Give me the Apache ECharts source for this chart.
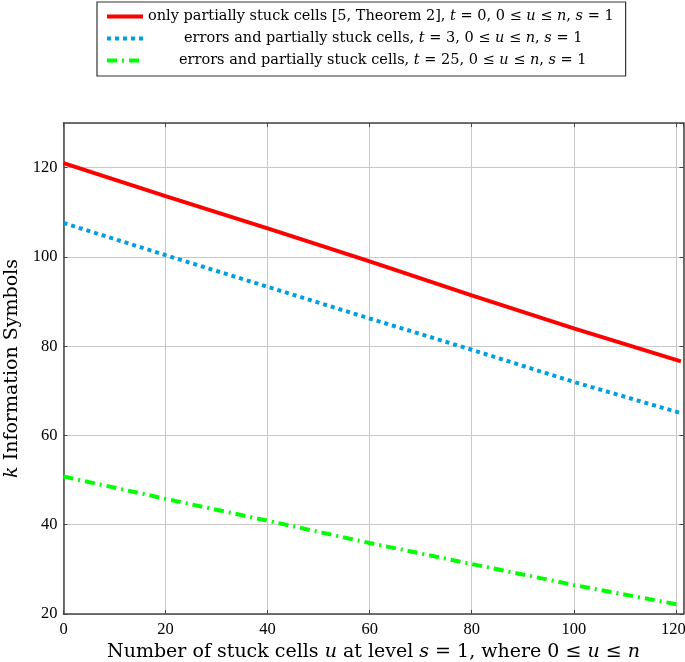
<!DOCTYPE html>
<html>
<head>
<meta charset="utf-8">
<script src="https://cdn.jsdelivr.net/npm/echarts@6/dist/echarts.min.js"></script>
<style>html,body{margin:0;padding:0;background:#fff;}#c{width:685px;height:662px;}</style>
</head>
<body>
<div id="c"></div>
<script>
const uValues = [0, 20, 40, 60, 80, 100, 121];
const onlyStuck = [121, 113.6, 106.4, 99.0, 91.4, 84.0, 76.6];
const errorsT3 = [107.6, 100.4, 93.3, 86.2, 79.2, 72.0, 65.0];
const errorsT25 = [50.8, 45.8, 40.9, 35.9, 31.2, 26.5, 22.0];
const seriesNames = ['only', 't3', 't25'];
const xTicks = [0, 20, 40, 60, 80, 100, 120];
const yTicks = [20, 40, 60, 80, 100, 120];

const TEXTFONT = 'DejaVu Serif';
const NUMFONT = 'Liberation Serif';
const pair = (ys) => uValues.map((u, i) => [u, ys[i]]);

const legendText = {
  only: '{a|only partially stuck cells [5, Theorem 2], }{i|t}{a| = 0, 0 ≤ }{i|u}{a| ≤ }{i|n}{a|, }{i|s}{a| = 1}',
  t3: '{sp2|}{a|errors and partially stuck cells, }{i|t}{a| = 3, 0 ≤ }{i|u}{a| ≤ }{i|n}{a|, }{i|s}{a| = 1}',
  t25: '{sp3|}{a|errors and partially stuck cells, }{i|t}{a| = 25, 0 ≤ }{i|u}{a| ≤ }{i|n}{a|, }{i|s}{a| = 1}'
};

const chart = echarts.init(document.getElementById('c'), null, {renderer: 'canvas'});
const axisLineStyle = {color: '#454545', width: 1.5};
const gridLine = {show: true, lineStyle: {color: '#c8c8c8', width: 1}};
const LF = 14.5;
const NF = 19;

chart.setOption({
  animation: false,
  backgroundColor: '#fff',
  grid: {left: 63.5, right: 1.5, top: 123, bottom: 48, outerBoundsMode: 'none', containLabel: false},
  legend: {
    orient: 'vertical',
    left: 97, top: 2,
    padding: [7, 12, 8, 8],
    itemGap: 7,
    itemWidth: 36, itemHeight: 17,
    borderColor: '#333', borderWidth: 1.2,
    itemStyle: {opacity: 0},
    lineStyle: {width: 4},
    data: seriesNames,
    formatter: (name) => legendText[name],
    textStyle: {
      fontFamily: TEXTFONT, fontSize: LF, color: '#000',
      rich: {
        a: {fontFamily: TEXTFONT, fontSize: LF, color: '#000'},
        i: {fontFamily: TEXTFONT, fontSize: LF, fontStyle: 'italic', color: '#000'},
        sp2: {width: 36},
        sp3: {width: 31}
      }
    }
  },
  xAxis: [{
    type: 'value', min: 0, max: 121.5, interval: 20,
    position: 'bottom',
    axisLine: {show: true, onZero: false, lineStyle: axisLineStyle},
    axisTick: {show: true, inside: true, length: 4, lineStyle: {color: '#454545'}},
    splitLine: gridLine,
    axisLabel: {show: true, fontFamily: NUMFONT, fontSize: 16.5, color: '#000', margin: 7, showMaxLabel: false,
      formatter: (v) => !xTicks.includes(v) ? '' : (v === 120 ? '{r|120}' : String(v)),
      rich: {r: {fontFamily: NUMFONT, fontSize: 16.5, color: '#000', padding: [0, 5, 0, 0]}}},
    name: '{a|Number of stuck cells }{i|u}{a| at level }{i|s}{a| = 1, where 0 ≤ }{i|u}{a| ≤ }{i|n}',
    nameLocation: 'middle', nameGap: 27,
    nameTextStyle: {
      rich: {
        a: {fontFamily: TEXTFONT, fontSize: NF, color: '#000'},
        i: {fontFamily: TEXTFONT, fontSize: NF, fontStyle: 'italic', color: '#000'}
      }
    }
  }, {
    type: 'value', min: 0, max: 121.5, interval: 20,
    position: 'top',
    axisLine: {show: true, onZero: false, lineStyle: axisLineStyle},
    axisTick: {show: true, inside: true, length: 4, lineStyle: {color: '#454545'}},
    splitLine: {show: false}, axisLabel: {show: false}
  }],
  yAxis: [{
    type: 'value', min: 20, max: 130, interval: 20,
    position: 'left',
    axisLine: {show: true, onZero: false, lineStyle: axisLineStyle},
    axisTick: {show: true, inside: true, length: 4, lineStyle: {color: '#454545'}},
    splitLine: gridLine,
    axisLabel: {show: true, fontFamily: NUMFONT, fontSize: 16.5, color: '#000', margin: 6, showMaxLabel: false,
      formatter: (v) => yTicks.includes(v) ? String(v) : ''},
    name: '{i|k}{a| Information Symbols}',
    nameLocation: 'middle', nameGap: 40, nameRotate: 90,
    nameTextStyle: {
      rich: {
        a: {fontFamily: TEXTFONT, fontSize: NF, color: '#000'},
        i: {fontFamily: TEXTFONT, fontSize: NF, fontStyle: 'italic', color: '#000'}
      }
    }
  }, {
    type: 'value', min: 20, max: 130, interval: 20,
    position: 'right',
    axisLine: {show: true, onZero: false, lineStyle: axisLineStyle},
    axisTick: {show: true, inside: true, length: 4, lineStyle: {color: '#454545'}},
    splitLine: {show: false}, axisLabel: {show: false}
  }],
  series: [{
    name: 'only', type: 'line', symbol: 'none', data: pair(onlyStuck),
    itemStyle: {color: '#ff0000'},
    lineStyle: {color: '#ff0000', width: 4}
  }, {
    name: 't3', type: 'line', symbol: 'none', data: pair(errorsT3),
    itemStyle: {color: '#00a0e0'},
    lineStyle: {color: '#00a0e0', width: 4, type: [4, 4], cap: 'butt'}
  }, {
    name: 't25', type: 'line', symbol: 'none', data: pair(errorsT25),
    itemStyle: {color: '#00ff00'},
    lineStyle: {color: '#00ff00', width: 4, type: [10, 5, 2, 5], cap: 'butt'}
  }]
});
</script>
</body>
</html>
